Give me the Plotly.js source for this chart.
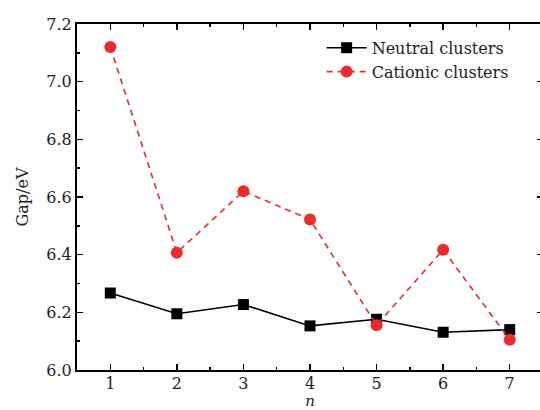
<!DOCTYPE html>
<html><head><meta charset="utf-8">
<script src="https://cdn.plot.ly/plotly-3.0.1.min.js"></script>
<style>html,body{margin:0;padding:0;overflow:hidden;width:540px;height:410px;background:#fff}#c{width:546px;height:410px}</style>
</head><body><div id="c"></div>
<script>
const nValues = [1, 2, 3, 4, 5, 6, 7];
const neutralGap = [6.267, 6.195, 6.227, 6.153, 6.176, 6.131, 6.140];
const cationicGap = [7.120, 6.407, 6.620, 6.522, 6.155, 6.417, 6.105];
const seriesNames = ['Neutral clusters', 'Cationic clusters'];

const font = {family: 'DejaVu Serif', size: 16, color: '#222'};
const traces = [
  {x: nValues, y: neutralGap, name: seriesNames[0], type: 'scatter', mode: 'lines+markers',
   line: {color: '#000', width: 1.6}, marker: {symbol: 'square', size: 11, color: '#000'}},
  {x: nValues, y: cationicGap, name: seriesNames[1], type: 'scatter', mode: 'lines+markers',
   line: {color: '#EE2A2A', width: 1.6, dash: '6px,5px'}, marker: {symbol: 'circle', size: 12, color: '#EE2A2A'}}
];
const axisCommon = {showline: true, linecolor: '#000', linewidth: 2, mirror: 'ticks', ticks: 'inside',
  ticklen: 6, tickwidth: 1.5, tickcolor: '#000', showgrid: false, zeroline: false, tickfont: font};
const layout = {
  width: 546, height: 410,
  margin: {l: 77, r: 3, t: 24, b: 40},
  paper_bgcolor: '#fff', plot_bgcolor: '#fff',
  font: font,
  showlegend: true,
  legend: {x: 0.525, y: 0.98, xanchor: 'left', yanchor: 'top', bgcolor: 'rgba(0,0,0,0)', font: font,
    tracegroupgap: 0, itemwidth: 40},
  xaxis: Object.assign({}, axisCommon, {range: [0.5, 7.5], tickvals: nValues, ticktext: nValues.map(String),
    ticklabelstandoff: -2, automargin: false,
    minor: {dtick: 0.5, ticks: 'inside', ticklen: 3, tickwidth: 1.5, tickcolor: '#000', tick0: 0.5},
    title: {text: '<i>n</i>', font: {family: 'DejaVu Serif', size: 15, color: '#222'}, standoff: 6}}),
  yaxis: Object.assign({}, axisCommon, {range: [6.0, 7.2], dtick: 0.2, tickformat: '.1f',
    minor: {dtick: 0.1, ticks: 'inside', ticklen: 3, tickwidth: 1.5, tickcolor: '#000'},
    title: {text: 'Gap/eV', font: font, standoff: 14}})
};
Plotly.newPlot('c', traces, layout, {staticPlot: true, displayModeBar: false});
</script></body></html>
